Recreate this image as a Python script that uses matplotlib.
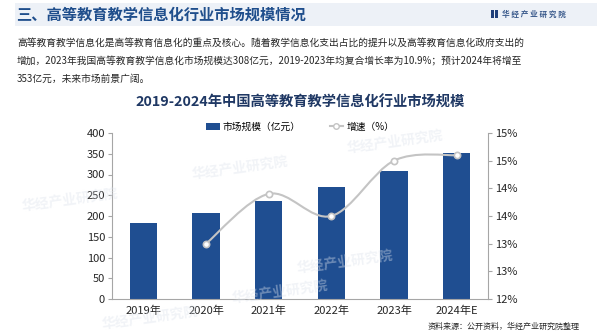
import matplotlib
matplotlib.use("Agg")
import matplotlib.pyplot as plt
from matplotlib.patches import Rectangle, Patch, PathPatch
from matplotlib.lines import Line2D
from matplotlib.path import Path

plt.rcParams['font.family'] = ['Noto Sans CJK SC', 'DejaVu Sans']

years = ["2019年", "2020年", "2021年", "2022年", "2023年", "2024年E"]
market_size = [184, 207, 236, 269, 308, 353]        # 亿元
growth_years = [1, 2, 3, 4, 5]                      # 2019 has no growth value
growth_rate = [13.0, 13.9, 13.5, 14.5, 14.6]        # %
right_ticks = [12.0, 12.5, 13.0, 13.5, 14.0, 14.5, 15.0]

BAR_BLUE = "#1f4e91"
TITLE_BLUE = "#1f4e8c"
LINE_GRAY = "#c4c4c4"
AXIS_GRAY = "#a6a6a6"

W, H = 600, 334


def px(x, y):
    return x / W, 1 - y / H


def smooth_path(xs, ys):
    # Catmull-Rom style cubic bezier through the points
    pts = list(zip(xs, ys))
    verts = [pts[0]]
    codes = [Path.MOVETO]
    n = len(pts)
    for i in range(n - 1):
        p0 = pts[i - 1] if i > 0 else pts[i]
        p1 = pts[i]
        p2 = pts[i + 1]
        p3 = pts[i + 2] if i + 2 < n else pts[i + 1]
        c1 = (p1[0] + (p2[0] - p0[0]) / 6, p1[1] + (p2[1] - p0[1]) / 6)
        c2 = (p2[0] - (p3[0] - p1[0]) / 6, p2[1] - (p3[1] - p1[1]) / 6)
        verts += [c1, c2, p2]
        codes += [Path.CURVE4] * 3
    return Path(verts, codes)


fig = plt.figure(figsize=(6, 3.34), dpi=100)

# header band and section title
fig.patches.append(Rectangle(px(15, 26), 582 / W, 23 / H, transform=fig.transFigure,
                             facecolor="#edf1f7", edgecolor="none", zorder=0))
fig.text(*px(16, 15), "三、高等教育教学信息化行业市场规模情况", fontsize=11,
         fontweight="bold", color=TITLE_BLUE, va="center", ha="left")

# logo
fig.patches.append(Rectangle(px(491, 18), 2.5 / W, 8 / H, transform=fig.transFigure,
                             facecolor="#1f3f7a", edgecolor="none"))
fig.patches.append(Rectangle(px(495, 18), 2.5 / W, 8 / H, transform=fig.transFigure,
                             facecolor="#1f3f7a", edgecolor="none"))
fig.text(*px(502, 14), "华 经 产 业 研 究 院", fontsize=5.5, fontweight="bold",
         color="#3a5a8c", va="center", ha="left")

# intro paragraph
para = [
    "高等教育教学信息化是高等教育信息化的重点及核心。随着教学信息化支出占比的提升以及高等教育信息化政府支出的",
    "增加，2023年我国高等教育教学信息化市场规模达308亿元，2019-2023年均复合增长率为10.9%；预计2024年将增至",
    "353亿元，未来市场前景广阔。",
]
for i, line in enumerate(para):
    fig.text(*px(17, 43 + 18 * i), line, fontsize=7, color="#262626",
             va="center", ha="left")

# chart title
fig.text(*px(300, 103), "2019-2024年中国高等教育教学信息化行业市场规模", fontsize=10.3,
         fontweight="bold", color="#1f3864", va="center", ha="center")

# faint watermarks
for (x, y) in [(70, 200), (240, 168), (395, 142), (150, 318), (280, 292), (345, 262)]:
    fig.text(*px(x, y), "华经产业研究院", fontsize=10, fontweight="bold",
             color="#dde3ec", alpha=0.4, rotation=8, va="center", ha="center", zorder=0)

ax = fig.add_axes([112 / W, 1 - 299 / H, 376 / W, 166 / H])
ax.patch.set_alpha(0)
x = list(range(len(years)))
ax.bar(x, market_size, width=0.44, color=BAR_BLUE, zorder=2)
ax.set_xlim(-0.5, len(years) - 0.5)
ax.set_ylim(0, 400)
ax.set_yticks(range(0, 401, 50))
ax.set_xticks(x)
ax.set_xticklabels(years)
ax.tick_params(axis="y", labelsize=8, colors="#262626", length=3, color=AXIS_GRAY, pad=2)
ax.tick_params(axis="x", labelsize=8, colors="#262626", length=0, pad=5)
for s in ["top", "right"]:
    ax.spines[s].set_visible(False)
for s in ["left", "bottom"]:
    ax.spines[s].set_color(AXIS_GRAY)

ax2 = ax.twinx()
ax2.set_ylim(12, 15)
ax2.set_yticks(right_ticks)
ax2.set_yticklabels([f"{int(v + 0.5)}%" for v in right_ticks])
ax2.tick_params(axis="y", labelsize=8, colors="#262626", length=3, color=AXIS_GRAY, pad=2)
for s in ["top", "left", "bottom"]:
    ax2.spines[s].set_visible(False)
ax2.spines["right"].set_color(AXIS_GRAY)

ax2.add_patch(PathPatch(smooth_path(growth_years, growth_rate), facecolor="none",
                        edgecolor=LINE_GRAY, linewidth=1.5, zorder=3))
ax2.plot(growth_years, growth_rate, linestyle="none", marker="o", markersize=4.5,
         markerfacecolor="white", markeredgecolor=LINE_GRAY, markeredgewidth=1.2, zorder=4)

handles = [Patch(facecolor=BAR_BLUE, edgecolor="none"),
           Line2D([], [], color=LINE_GRAY, linewidth=1.5, marker="o", markersize=4,
                  markerfacecolor="white", markeredgecolor=LINE_GRAY)]
fig.legend(handles, ["市场规模（亿元）", "增速（%）"], loc="center", ncol=2,
           bbox_to_anchor=px(300, 127), frameon=False, fontsize=7,
           handlelength=1.4, handleheight=0.8, handletextpad=0.3, columnspacing=3.0)

# source note
fig.text(*px(580, 326), "资料来源：公开资料，华经产业研究院整理", fontsize=5.8,
         color="#262626", va="center", ha="right")

fig.savefig("out.png", dpi=100)
